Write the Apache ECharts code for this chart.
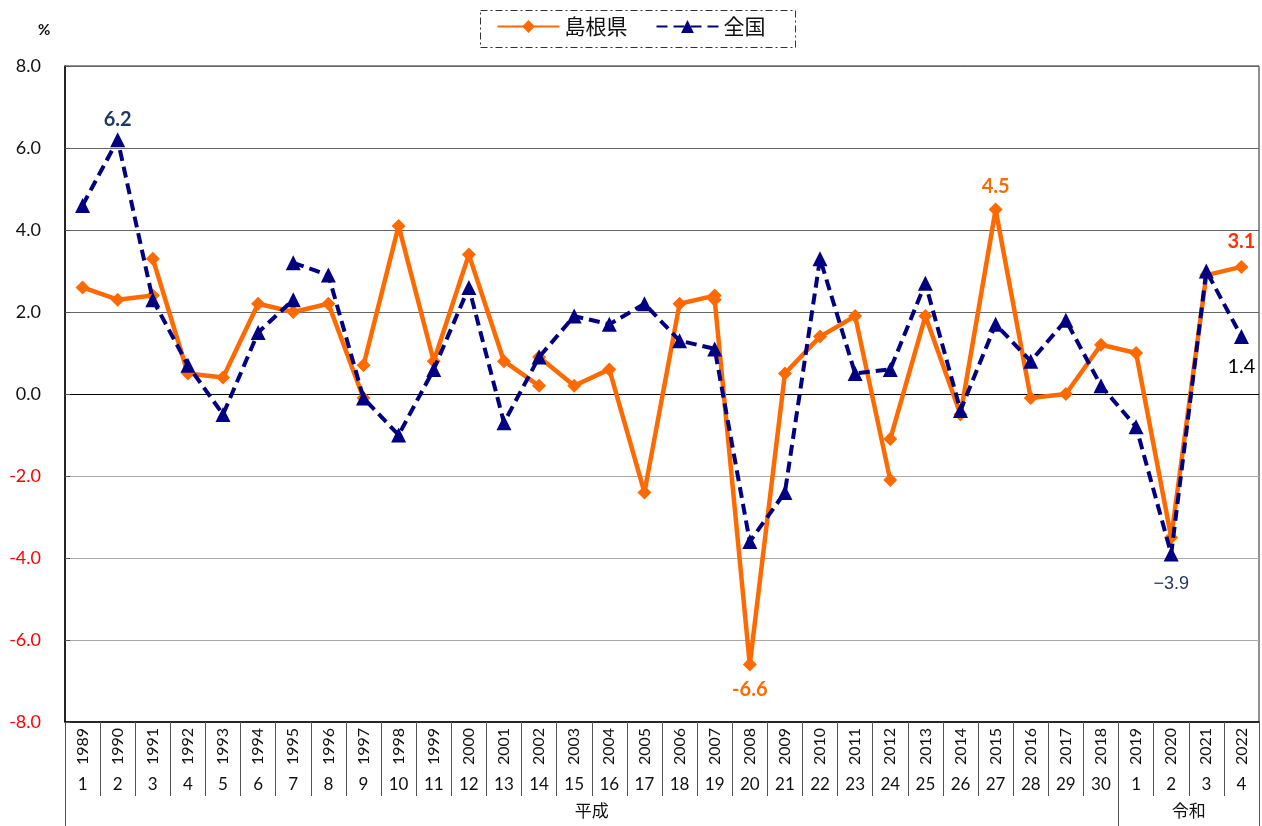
<!DOCTYPE html>
<html><head><meta charset="utf-8">
<script src="https://cdn.jsdelivr.net/npm/echarts@6/dist/echarts.min.js"></script>
<style>html,body{margin:0;padding:0;background:#fff}#c{width:1262px;height:826px}</style>
</head><body><div id="c"></div>
<script>
// ---- data ----
const years = ['1989','1990','1991','1992','1993','1994','1995','1996','1997','1998','1999','2000','2001','2002','2003','2004','2005','2006','2007','2008','2009','2010','2011','2012','2013','2014','2015','2016','2017','2018','2019','2020','2021','2022'];
const eraYears = ['1','2','3','4','5','6','7','8','9','10','11','12','13','14','15','16','17','18','19','20','21','22','23','24','25','26','27','28','29','30','1','2','3','4'];
const eraNames = ['平成','令和'];
const eraSpans = [[0,30],[30,34]]; // category index ranges
const yTickMin = -8, yTickMax = 8, yTickStep = 2;

// 島根県 (segments, broken where the series is re-based)
const shimaneStarts = ['1989','1991','1997','2002','2007','2012'];
const shimane1 = [2.6, 2.3, 2.4];
const shimane2 = [3.3, 0.5, 0.4, 2.2, 2.0, 2.2, -0.1];
const shimane3 = [0.7, 4.1, 0.8, 3.4, 0.8, 0.2];
const shimane4 = [0.9, 0.2, 0.6, -2.4, 2.2, 2.4];
const shimane5 = [2.3, -6.6, 0.5, 1.4, 1.9, -2.1];
const shimane6 = [-1.1, 1.9, -0.5, 4.5, -0.1, 0.0, 1.2, 1.0, -3.5, 2.9, 3.1];

// 全国
const nationalStarts = ['1989','1995'];
const national1 = [4.6, 6.2, 2.3, 0.7, -0.5, 1.5, 2.3];
const national2 = [3.2, 2.9, -0.1, -1.0, 0.6, 2.6, -0.7, 0.9, 1.9, 1.7, 2.2, 1.3, 1.1, -3.6, -2.4, 3.3, 0.5, 0.6, 2.7, -0.4, 1.7, 0.8, 1.8, 0.2, -0.8, -3.9, 3.0, 1.4];

// labelled points: [year, text]
const shimaneLabels = [['2015','4.5'],['2008','-6.6'],['2022','3.1']];
const nationalLabels = [['1990','6.2'],['2022','1.4'],['2020','−3.9']];

// ---- styles ----
const ORANGE = '#FF6A00', NAVY = '#000080';
const labelStyles = {
  's2015': {position:'top', distance:6, color:'#FF6A00', fontWeight:'bold', fontSize:20, fontFamily:'Lato'},
  's2008': {position:'bottom', distance:8, color:'#FF6A00', fontWeight:'bold', fontSize:20, fontFamily:'Lato'},
  's2022': {position:'top', distance:8, color:'#FF3300', fontWeight:'bold', fontSize:20, fontFamily:'Lato'},
  'n1990': {position:'top', distance:3, color:'#1F3864', fontWeight:'bold', fontSize:20, fontFamily:'Lato'},
  'n2022': {position:'bottom', distance:12, color:'#000', fontSize:20, fontFamily:'Lato'},
  'n2020': {position:'bottom', distance:14, color:'#1F3864', fontSize:18, fontFamily:'Liberation Sans'}
};

function buildSeg(key, start, vals, labels) {
  const i0 = years.indexOf(start);
  return vals.map((v, k) => {
    const yr = years[i0 + k];
    const item = {value: [i0 + k, v]};
    const lab = labels.find(l => l[0] === yr);
    if (lab) {
      item.label = Object.assign({show:true, formatter: lab[1]}, labelStyles[key + yr]);
    }
    return item;
  });
}

const series = [];
[shimane1, shimane2, shimane3, shimane4, shimane5, shimane6].forEach((vals, i) => {
  series.push({
    name:'島根県', type:'line', data: buildSeg('s', shimaneStarts[i], vals, shimaneLabels), z:2,
    symbol:'diamond', symbolSize:14,
    lineStyle:{color:ORANGE, width:4.5},
    itemStyle:{color:ORANGE},
    label:{show:false}, emphasis:{disabled:true}, animation:false
  });
});
[national1, national2].forEach((vals, i) => {
  series.push({
    name:'全国', type:'line', data: buildSeg('n', nationalStarts[i], vals, nationalLabels), z:3,
    symbol:'triangle', symbolSize:15,
    lineStyle:{color:NAVY, width:4, type:[11,6]},
    itemStyle:{color:NAVY},
    label:{show:false}, emphasis:{disabled:true}, animation:false
  });
});

const chart = echarts.init(document.getElementById('c'), null, {renderer:'canvas'});
chart.setOption({
  animation:false,
  backgroundColor:'#fff',
  textStyle:{fontFamily:'Lato'},
  grid:{left:65, right:3, top:66, bottom:104, show:true, borderColor:'#222', borderWidth:1, containLabel:false},
  legend:{
    data:['島根県','全国'], top:11, left:'center',
    itemWidth:62, itemHeight:16, itemGap:28,
    textStyle:{fontSize:21, color:'#111', fontFamily:'Noto Sans CJK JP'}
  },
  graphic:[{
    type:'rect', left:478, top:8, silent:true,
    shape:{width:315, height:37},
    style:{fill:'none', stroke:'#333', lineWidth:1, lineDash:[7,3,2,3]}
  },{
    type:'text', left:38, top:23, silent:true,
    style:{text:'%', fontSize:15, fontWeight:'bold', fill:'#111', fontFamily:'Lato'}
  }],
  xAxis:[{
    type:'category', data:years, position:'bottom', boundaryGap:true,
    axisLine:{show:true, onZero:false, lineStyle:{color:'#000', width:1.5}},
    axisTick:{show:true, interval:0, length:74, lineStyle:{color:'#555'}},
    axisLabel:{interval:0, rotate:90, margin:6, fontSize:16, color:'#111', fontFamily:'Lato'},
    splitLine:{show:false}
  },{
    type:'category', data:eraYears, position:'bottom', boundaryGap:true,
    axisLine:{show:false, onZero:false}, axisTick:{show:false},
    axisLabel:{interval:0, margin:54, fontSize:17, color:'#111', fontFamily:'Lato'},
    splitLine:{show:false}
  },{
    type:'value', min:0, max:years.length, position:'bottom',
    axisLine:{show:false, onZero:false},
    axisTick:{show:true, length:104, customValues:[eraSpans[0][0], eraSpans[0][1], eraSpans[1][1]], lineStyle:{color:'#555'}},
    axisLabel:{show:true, margin:80, fontSize:17, color:'#111', fontFamily:'Noto Sans CJK JP',
      customValues: eraSpans.map(s => (s[0]+s[1])/2),
      formatter: v => { const i = eraSpans.findIndex(s => Math.abs((s[0]+s[1])/2 - v) < 1e-6); return i >= 0 ? eraNames[i] : ''; }
    },
    splitLine:{show:false}
  }],
  yAxis:{
    type:'value', min:yTickMin, max:yTickMax, interval:yTickStep,
    axisLine:{show:true, onZero:false, lineStyle:{color:'#000', width:1.5}},
    axisTick:{show:true, length:5, inside:true, lineStyle:{color:'#555'}},
    axisLabel:{margin:24, fontSize:18, fontFamily:'Lato',
      formatter: v => v.toFixed(1),
      color: v => (Number(v) < 0 ? '#FF0000' : '#111')},
    splitLine:{show:true, lineStyle:{width:1.2, color:['#aaa','#aaa','#aaa','#aaa','#000','#666','#666','#666','#666']}}
  },
  series
});
</script>
</body></html>
